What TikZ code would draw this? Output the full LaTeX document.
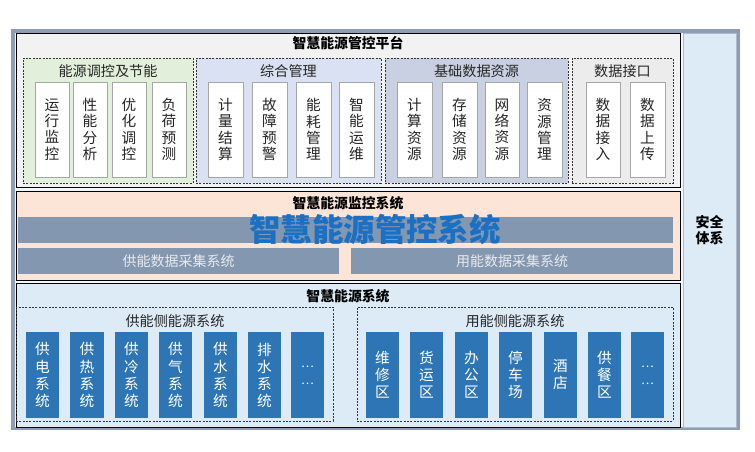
\documentclass[tikz,border=0pt]{standalone}
\usepackage{fontspec}
\setmainfont{Noto Sans CJK SC}
\definecolor{framec}{RGB}{140,157,181}
\definecolor{platbg}{RGB}{242,242,242}
\definecolor{gA}{RGB}{226,239,218}
\definecolor{gB}{RGB}{218,225,242}
\definecolor{gC}{RGB}{201,208,225}
\definecolor{gD}{RGB}{236,236,236}
\definecolor{monbg}{RGB}{252,228,214}
\definecolor{barc}{RGB}{132,151,176}
\definecolor{bartext}{RGB}{232,234,238}
\definecolor{enbg}{RGB}{221,235,247}
\definecolor{bluebox}{RGB}{46,117,182}
\definecolor{wmark}{RGB}{28,112,196}
\definecolor{boxline}{RGB}{166,166,166}
\definecolor{txt}{RGB}{38,38,38}
\newcommand\pbox[7]{\node[#6, inner sep=0pt, outer sep=0pt, minimum width={(#4-#2)*0.75pt}, minimum height={(#5-#3)*0.75pt}] (#1) at ({(#2+#4)/2},{(#3+#5)/2}) {#7};}
\tikzset{
  section/.style={draw=black, line width=0.6pt},
  grp/.style={draw=black!80, line width=0.5pt, dash pattern=on 1.5pt off 1pt},
  wbox/.style={draw=boxline, fill=white, line width=0.5pt, align=center, text=txt,
    font=\fontsize{11}{12.3}\selectfont},
  bbox/.style={fill=bluebox, align=center, text=white,
    font=\fontsize{11}{12.8}\selectfont},
  bar/.style={fill=barc, text=bartext, font=\fontsize{10.5}{12}\selectfont},
  stitle/.style={font=\bfseries\fontsize{10.4}{12}\selectfont, text=black, inner sep=0pt},
  gtitle/.style={font=\fontsize{10.6}{12}\selectfont, text=txt, inner sep=0pt},
}
\begin{document}
\begin{tikzpicture}[x=0.75pt,y=-0.75pt]
\useasboundingbox (0,0) rectangle (755,451);
% outer frame
\pbox{frame}{11}{29}{740}{430}{fill=framec}{}
\pbox{inner}{15}{33}{736}{427}{fill=white!60!enbg}{}
% sections
\pbox{plat}{16}{33}{680}{187}{section, fill=platbg}{}
\pbox{sec}{683}{33}{736}{427}{draw=framec!70, fill=enbg, align=center, font=\bfseries\fontsize{10.5}{12.5}\selectfont}{安全\\体系}
\pbox{mon}{16}{191}{680}{280}{section, fill=monbg}{}
\pbox{en}{16}{283}{680}{427}{section, fill=enbg}{}
\node[stitle] (tplat) at (348,43) {智慧能源管控平台};
\node[stitle] (tmon) at (348,203) {智慧能源监控系统};
\node[stitle] (ten) at (348,296) {智慧能源系统};
% platform groups
\pbox{g1}{23}{58}{193}{183}{grp, fill=gA}{}
\pbox{g2}{196}{58}{381}{183}{grp, fill=gB}{}
\pbox{g3}{385}{58}{568}{183}{grp, fill=gC}{}
\pbox{g4}{572}{58}{673}{183}{grp, fill=gD}{}
\node[gtitle] (tg1) at (108,71) {能源调控及节能};
\node[gtitle] (tg2) at (288.5,71) {综合管理};
\node[gtitle] (tg3) at (476.5,71) {基础数据资源};
\node[gtitle] (tg4) at (622.5,71) {数据接口};
% platform boxes
\pbox{a1}{35}{82}{69}{177}{wbox}{运\\行\\监\\控}
\pbox{a2}{73}{82}{107}{177}{wbox}{性\\能\\分\\析}
\pbox{a3}{112}{82}{146}{177}{wbox}{优\\化\\调\\控}
\pbox{a4}{152}{82}{186}{177}{wbox}{负\\荷\\预\\测}
\pbox{b1}{208}{82}{243}{177}{wbox}{计\\量\\结\\算}
\pbox{b2}{252}{82}{287}{177}{wbox}{故\\障\\预\\警}
\pbox{b3}{296}{82}{331}{177}{wbox}{能\\耗\\管\\理}
\pbox{b4}{339}{82}{374}{177}{wbox}{智\\能\\运\\维}
\pbox{c1}{397}{82}{432}{177}{wbox}{计\\算\\资\\源}
\pbox{c2}{442}{82}{477}{177}{wbox}{存\\储\\资\\源}
\pbox{c3}{485}{82}{519}{177}{wbox}{网\\络\\资\\源}
\pbox{c4}{527}{82}{562}{177}{wbox}{资\\源\\管\\理}
\pbox{d1}{586}{82}{620}{177}{wbox}{数\\据\\接\\入}
\pbox{d2}{630}{82}{665}{177}{wbox}{数\\据\\上\\传}
% monitoring bars
\pbox{bar1}{18}{217}{673}{243}{bar}{}
\pbox{bar2}{18}{248}{339}{274}{bar}{供能数据采集系统}
\pbox{bar3}{351}{248}{673}{274}{bar}{用能数据采集系统}
\node[font=\bfseries\fontsize{23.6}{26}\selectfont, text=wmark, inner sep=0pt] (wm) at (375,230) {智慧能源管控系统};
% energy groups
\pbox{e1}{16}{307}{333}{421}{grp}{}
\pbox{e2}{357}{307}{673}{421}{grp}{}
\node[gtitle] (te1) at (175,321) {供能侧能源系统};
\node[gtitle] (te2) at (515,321) {用能侧能源系统};
\pbox{s1}{26}{332}{59}{418}{bbox}{供\\电\\系\\统}
\pbox{s2}{70}{332}{104}{418}{bbox}{供\\热\\系\\统}
\pbox{s3}{115}{332}{148}{418}{bbox}{供\\冷\\系\\统}
\pbox{s4}{159}{332}{192}{418}{bbox}{供\\气\\系\\统}
\pbox{s5}{204}{332}{237}{418}{bbox}{供\\水\\系\\统}
\pbox{s6}{248}{332}{281}{418}{bbox}{排\\水\\系\\统}
\pbox{s7}{291}{332}{324}{418}{bbox, font=\fontsize{9}{12.8}\selectfont}{…\\…}
\pbox{u1}{366}{332}{399}{418}{bbox}{维\\修\\区}
\pbox{u2}{410}{332}{443}{418}{bbox}{货\\运\\区}
\pbox{u3}{455}{332}{488}{418}{bbox}{办\\公\\区}
\pbox{u4}{499}{332}{532}{418}{bbox}{停\\车\\场}
\pbox{u5}{544}{332}{577}{418}{bbox}{酒\\店}
\pbox{u6}{588}{332}{621}{418}{bbox}{供\\餐\\区}
\pbox{u7}{631}{332}{664}{418}{bbox, font=\fontsize{9}{12.8}\selectfont}{…\\…}
\end{tikzpicture}
\end{document}
